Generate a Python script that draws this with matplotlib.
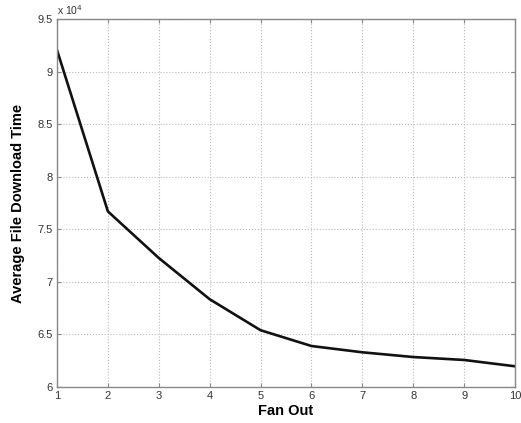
import matplotlib
matplotlib.use("Agg")
import matplotlib.pyplot as plt
from matplotlib.ticker import FuncFormatter

fan_out = [1, 2, 3, 4, 5, 6, 7, 8, 9, 10]
download_time = [92050, 76700, 72270, 68350, 65400, 63900, 63300, 62850, 62570, 61970]
x_ticks = [1, 2, 3, 4, 5, 6, 7, 8, 9, 10]
y_ticks = [60000, 65000, 70000, 75000, 80000, 85000, 90000, 95000]

plt.rcParams['font.family'] = ['Liberation Sans', 'DejaVu Sans']

fig = plt.figure(figsize=(5.21, 4.23), dpi=100)
ax = fig.add_axes([57/521, 36/423, (515-57)/521, (387-19)/423])

ax.plot(fan_out, download_time, color='#111111', linewidth=1.9)

ax.set_xlim(1, 10)
ax.set_ylim(60000, 95000)
ax.set_xticks(x_ticks)
ax.set_yticks(y_ticks)
ax.yaxis.set_major_formatter(FuncFormatter(lambda v, p: f"{v/1e4:g}"))
ax.grid(True, color='#bbbbbb', linestyle=':', linewidth=0.8)
ax.tick_params(direction='in', labelsize=8, labelcolor='#333333', color='#888888',
               length=3, top=True, right=True, pad=3)
for s in ax.spines.values():
    s.set_color('#888888')
    s.set_linewidth(1.0)

ax.set_xlabel('Fan Out', fontsize=10.5, fontweight='bold', labelpad=2)
ax.set_ylabel('Average File Download Time', fontsize=10.5, fontweight='bold', labelpad=9)
ax.text(0.0, 1.005, r'x 10$^4$', transform=ax.transAxes, fontsize=7.5,
        color='#333333', ha='left', va='bottom')

fig.savefig('out.png', dpi=100)
